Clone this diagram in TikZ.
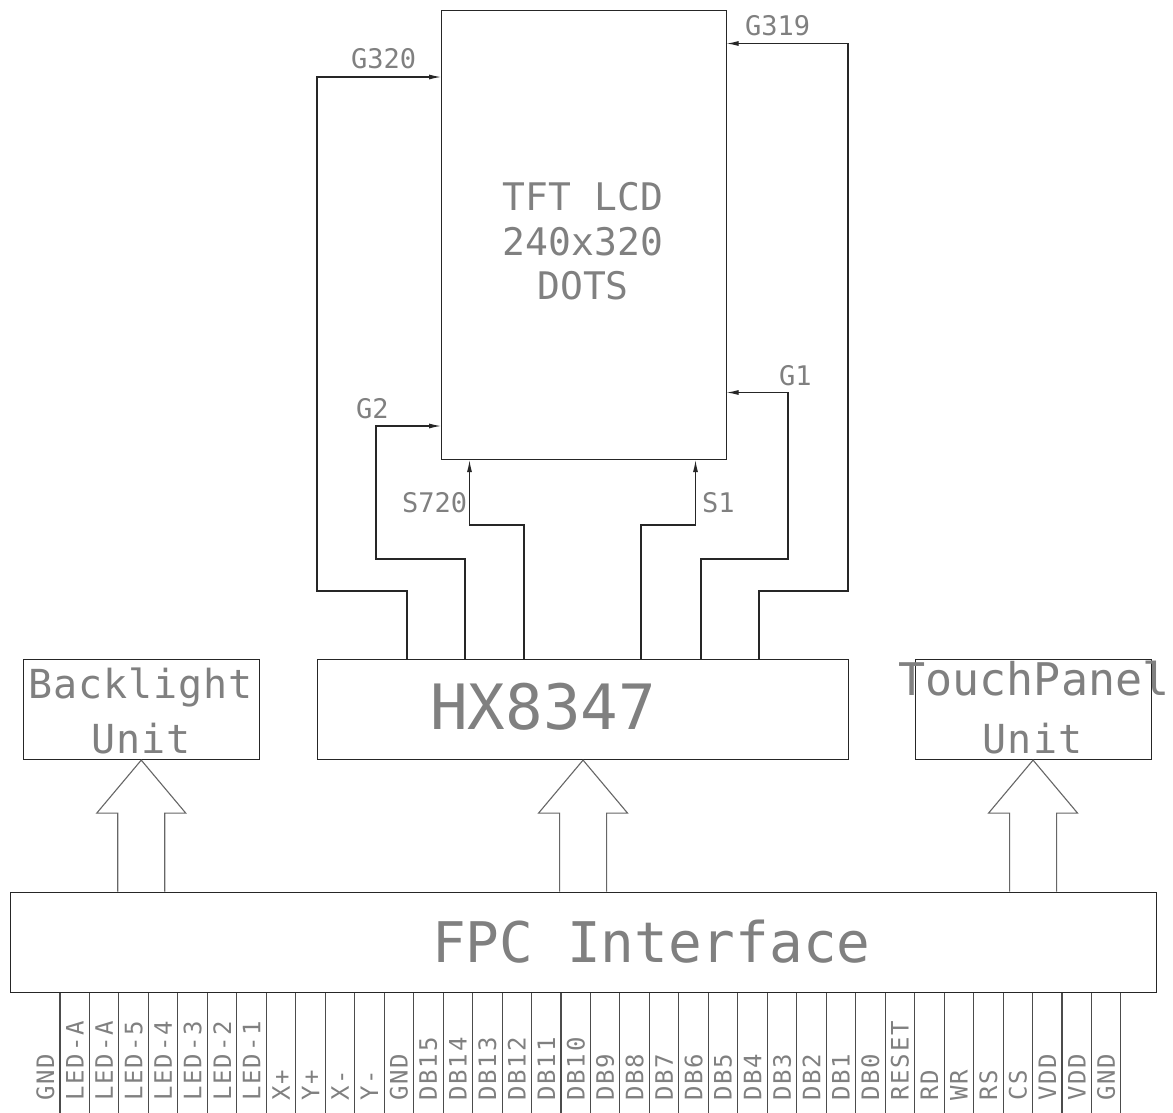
\documentclass[tikz,border=0pt]{standalone}
\usepackage{fontspec}
\newfontfamily\cad{DejaVu Sans Mono}
\newfontfamily\cadwide[LetterSpace=8]{DejaVu Sans Mono}
\newfontfamily\cadunit[LetterSpace=2.5]{DejaVu Sans Mono}
\usetikzlibrary{arrows.meta,calc}
\begin{document}
\begin{tikzpicture}[x=1pt,y=-1pt,
  box/.style={draw=black!85, line width=1.1pt, inner sep=0pt, anchor=north west},
  sig/.style={draw=black!85, line width=1.1pt, -{Latex[length=12pt,width=5pt]}},
  wire/.style={draw=black!70, line width=1.1pt},
  bigarrow/.style={draw=black!60, line width=1.1pt},
  lbl/.style={font=\cad\fontsize{27}{27}\selectfont, text=black!50, inner sep=0pt, anchor=base west},
  title/.style={font=\cad\fontsize{38}{38}\selectfont, text=black!50, inner sep=0pt, anchor=base},
  unitlbl/.style={font=\cadunit\fontsize{40}{40}\selectfont, text=black!50, inner sep=0pt, anchor=base},
  biglbl/.style={font=\cad\fontsize{55}{55}\selectfont, text=black!50, inner sep=0pt, anchor=base west},
  pinlbl/.style={font=\cadwide\fontsize{24}{24}\selectfont, text=black!50, inner sep=0pt, rotate=90, anchor=west}]
\useasboundingbox (0,0) rectangle (1173,1112);
\fill[white] (0,0) rectangle (1173,1112);

% boxes
\node[box, minimum width=284.5pt, minimum height=449pt] (lcd) at (441,10) {};
\node[box, minimum width=531pt, minimum height=100pt] (hx) at (317,659) {};
\node[box, minimum width=236pt, minimum height=100pt] (bl) at (22.7,659) {};
\node[box, minimum width=236pt, minimum height=100pt] (tp) at (914.5,659) {};
\node[box, minimum width=1146pt, minimum height=100pt] (fpc) at (10,891.5) {};

% texts in boxes
\node[title] (t1) at (583,210) {TFT LCD};
\node[title] (t2) at (583,255) {240x320};
\node[title] (t3) at (583,299) {DOTS};
\node[biglbl, font=\cad\fontsize{62.5}{62.5}\selectfont] (hxt) at (430,729) {HX8347};
\node[biglbl, font=\cad\fontsize{56}{56}\selectfont] (fpct) at (432,962) {FPC Interface};
\node[unitlbl] (blt1) at (140.7,698) {Backlight};
\node[unitlbl] (blt2) at (140.7,753) {Unit};
\node[unitlbl, font=\cad\fontsize{45}{45}\selectfont] (tpt1) at (1034,695) {TouchPanel};
\node[unitlbl] (tpt2) at (1032.5,753) {Unit};

% signal connectors
\draw[sig] (407,0 |- hx.north) -- (407,591) -- (317,591) -- (317,77) -- (lcd.west |- 0,77);
\draw[sig] (465,0 |- hx.north) -- (465,559) -- (376,559) -- (376,426) -- (lcd.west |- 0,426);
\draw[sig] (524,0 |- hx.north) -- (524,525) -- (469.5,525) -- (469.5,0 |- lcd.south);
\draw[sig] (641,0 |- hx.north) -- (641,525) -- (695.5,525) -- (695.5,0 |- lcd.south);
\draw[sig] (701,0 |- hx.north) -- (701,559) -- (788,559) -- (788,392.5) -- (lcd.east |- 0,392.5);
\draw[sig] (759,0 |- hx.north) -- (759,591) -- (848,591) -- (848,43.5) -- (lcd.east |- 0,43.5);

% signal labels
\node[lbl] (g320) at (351,68) {G320};
\node[lbl] (g319) at (745,35) {G319};
\node[lbl] (g2) at (356,418) {G2};
\node[lbl] (g1) at (779,385) {G1};
\node[lbl] (s720) at (402,512) {S720};
\node[lbl] (s1) at (702,512) {S1};

% block arrows
\foreach \n in {bl,hx,tp}
  \draw[bigarrow] ($(fpc.north -| \n.south)+(-23.5,0)$) |- ($(\n.south)+(-44.5,53)$)
     -- (\n.south) -- ($(\n.south)+(44.5,53)$) -| ($(fpc.north -| \n.south)+(23.5,0)$);

% pins
\foreach \i in {0,...,36}
  \draw[wire] ($(fpc.south west)+({50+29.47*\i},0)$) -- ++(0,121);
\foreach \t [count=\i from 0] in {GND,LED-A,LED-A,LED-5,LED-4,LED-3,LED-2,LED-1,X+,Y+,X-,Y-,GND,DB15,DB14,DB13,DB12,DB11,DB10,DB9,DB8,DB7,DB6,DB5,DB4,DB3,DB2,DB1,DB0,RESET,RD,WR,RS,CS,VDD,VDD,GND}
  \node[pinlbl] (p\i) at ({45.3+29.47*\i},1101) {\t};
\end{tikzpicture}
\end{document}
